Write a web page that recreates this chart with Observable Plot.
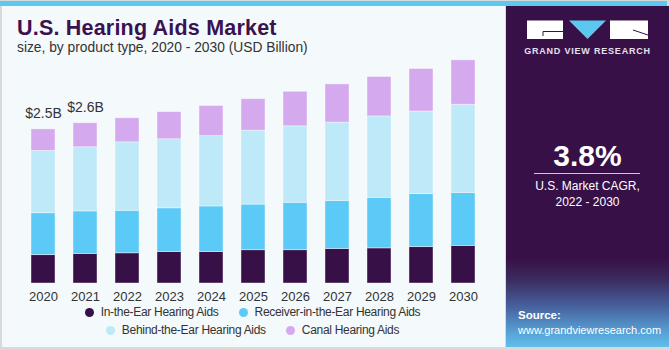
<!DOCTYPE html>
<html>
<head>
<meta charset="utf-8">
<script src="https://cdn.jsdelivr.net/npm/d3@7"></script>
<script src="https://cdn.jsdelivr.net/npm/@observablehq/plot@0.6"></script>
<style>
  html, body { margin: 0; padding: 0; }
  body { width: 670px; height: 350px; position: relative; overflow: hidden; background: #d9d9d9; font-family: "Liberation Sans", Arial, sans-serif; }
  #topbar { position: absolute; left: 0; top: 1px; width: 667px; height: 5px; background: #5bc8f0; }
  #left { position: absolute; left: 2px; top: 6px; width: 503px; height: 341px; background: #f4f9fc; }
  #right { position: absolute; left: 506px; top: 6px; width: 163px; height: 341px;
    background: linear-gradient(to bottom, #381048 0%, #381048 74%, #3b2a5e 80%, #46609c 88%, #58a4d8 96%, #62bdea 100%); }
  #title { position: absolute; left: 17px; top: 16px; font-size: 21.5px; font-weight: bold; color: #3a1250; letter-spacing: 0.2px; white-space: nowrap; }
  #subtitle { position: absolute; left: 17px; top: 40px; font-size: 13.8px; color: #333; white-space: nowrap; }
  #chart { position: absolute; left: 0; top: 50px; }
  #legend { position: absolute; left: 0; top: 303px; width: 505px; font-size: 12px; letter-spacing: -0.3px; color: #333; }
  .lrow { display: flex; justify-content: center; gap: 20px; height: 18px; align-items: center; }
  .litem { display: flex; align-items: center; white-space: nowrap; }
  .dot { width: 9px; height: 9px; border-radius: 50%; margin-right: 7px; }
  .ptext { position: absolute; left: 506px; width: 163px; text-align: center; color: #fff; white-space: nowrap; }
</style>
</head>
<body>
<div id="topbar"></div>
<div id="left"></div>
<div id="right"></div>
<div id="title">U.S. Hearing Aids Market</div>
<div id="subtitle">size, by product type, 2020 - 2030 (USD Billion)</div>
<div id="chart"></div>
<div id="legend"></div>

<svg style="position:absolute;left:0;top:0" width="670" height="60">
  <rect x="527" y="20.5" width="36" height="18.5" fill="#fff"/>
  <path d="M543 31.5 H563 M543 31.5 V36" stroke="#381048" stroke-width="1"/>
  <polygon points="569,20.5 606,20.5 587.5,39" fill="#5bc8f0"/>
  <rect x="610" y="20.5" width="38" height="18.5" fill="#fff"/>
  <path d="M633 30 L648 35" stroke="#381048" stroke-width="1"/>
</svg>
<div class="ptext" style="top:45.5px;font-size:9px;font-weight:bold;letter-spacing:0.8px;color:#e6e0ec;">GRAND VIEW RESEARCH</div>
<div class="ptext" style="top:139px;font-size:30px;font-weight:bold;">3.8%</div>
<div style="position:absolute;left:534px;top:172.5px;width:106px;height:1.5px;background:#cfc6d8;"></div>
<div class="ptext" style="top:178px;font-size:12px;line-height:16px;">U.S. Market CAGR,<br>2022 - 2030</div>
<div style="position:absolute;left:518px;top:308px;color:#fff;font-size:11px;line-height:15px;white-space:nowrap;"><b style="font-size:11.5px">Source:</b><br>www.grandviewresearch.com</div>

<script>
const years = ["2020","2021","2022","2023","2024","2025","2026","2027","2028","2029","2030"];
const segments = ["In-the-Ear Hearing Aids","Receiver-in-the-Ear Hearing Aids","Behind-the-Ear Hearing Aids","Canal Hearing Aids"];
const colors = ["#381048","#5ccaf6","#bde9f8","#d5a9ee"];
const inTheEar = [0.46,0.48,0.49,0.51,0.51,0.54,0.54,0.56,0.57,0.59,0.61];
const receiverInTheEar = [0.68,0.69,0.69,0.71,0.74,0.74,0.77,0.78,0.82,0.86,0.86];
const behindTheEar = [1.01,1.04,1.11,1.12,1.14,1.20,1.24,1.27,1.32,1.34,1.43];
const canal = [0.35,0.39,0.39,0.44,0.49,0.51,0.56,0.62,0.64,0.69,0.72];
const labelYears = ["2020","2021"];
const labelTexts = ["$2.5B","$2.6B"];

const seriesValues = [inTheEar, receiverInTheEar, behindTheEar, canal];
const rows = [];
years.forEach((yr, i) => {
  seriesValues.forEach((vals, s) => rows.push({year: yr, segment: segments[s], value: vals[i]}));
});
const totals = labelYears.map((yr, k) => {
  const i = years.indexOf(yr);
  return {year: yr, total: seriesValues.reduce((a, v) => a + v[i], 0), label: labelTexts[k]};
});

const chart = Plot.plot({
  width: 505,
  height: 255,
  marginLeft: 13,
  marginRight: 12,
  marginTop: 8,
  marginBottom: 22,
  style: {background: "transparent", fontFamily: "'Liberation Sans', Arial, sans-serif", overflow: "visible"},
  x: {domain: years, padding: 0.42, label: null, tickSize: 0, tickPadding: 8},
  y: {domain: [0, 3.65], axis: null},
  color: {domain: segments, range: colors},
  marks: [
    Plot.barY(rows, {x: "year", y: "value", fill: "segment", stroke: "#ffffff", strokeOpacity: 0.5, strokeWidth: 0.8}),
    Plot.text(totals, {x: "year", y: "total", text: "label", dy: -16, fontSize: 14, fill: "#333"}),
    Plot.axisX({tickSize: 0, tickPadding: 8, fontSize: 13, color: "#333", label: null})
  ]
});
document.getElementById("chart").appendChild(chart);

const legend = document.getElementById("legend");
[[0,1],[2,3]].forEach(idx => {
  const row = document.createElement("div");
  row.className = "lrow";
  idx.forEach(i => {
    const it = document.createElement("div");
    it.className = "litem";
    it.innerHTML = `<span class="dot" style="background:${colors[i]}"></span>${segments[i]}`;
    row.appendChild(it);
  });
  legend.appendChild(row);
});
</script>
</body>
</html>
